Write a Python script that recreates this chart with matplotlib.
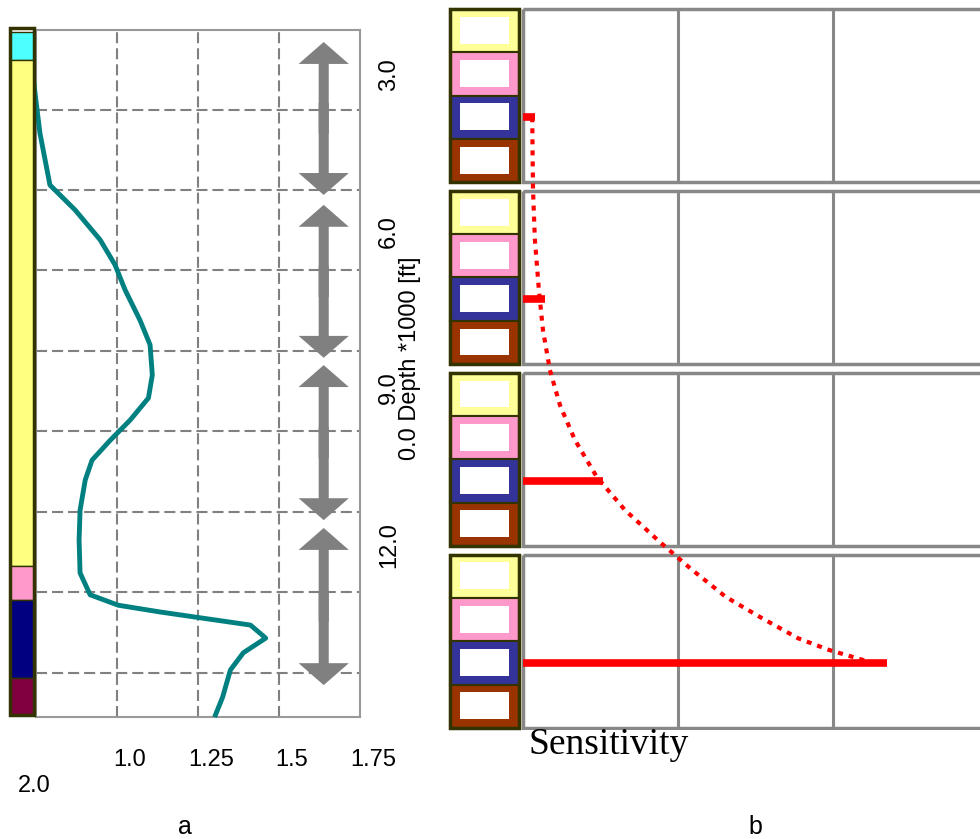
import numpy as np
import matplotlib.pyplot as plt
from matplotlib.patches import Rectangle
from matplotlib.transforms import ScaledTranslation

plt.rcParams['font.family'] = ['Liberation Sans', 'DejaVu Sans']

# ---------------- panel a : log vs depth (depth in 1000 ft)
log_depth = [3.04, 4.11, 5.11, 5.59, 6.16, 6.64, 7.12, 7.70, 8.17, 8.75,
             9.19, 9.61, 10.00, 10.38, 10.76, 11.34, 11.91, 12.54, 12.96, 13.16,
             13.29, 13.39, 13.54, 13.79, 14.07, 14.40, 14.92, 15.26]
log_value = [0.741, 0.762, 0.793, 0.871, 0.948, 0.994, 1.025, 1.071, 1.102, 1.109,
             1.097, 1.041, 0.979, 0.923, 0.902, 0.886, 0.883, 0.886, 0.917, 1.004,
             1.134, 1.245, 1.412, 1.459, 1.390, 1.350, 1.326, 1.304]

litho_tops = [2.17, 2.71, 12.41, 13.06, 14.55]
litho_bottoms = [2.71, 12.41, 13.06, 14.55, 15.26]
litho_colors = ['#4dffff', '#ffff80', '#ff99cc', '#000080', '#800040']

zone_tops = [2.37, 5.49, 8.56, 11.68]
zone_bottoms = [5.30, 8.42, 11.53, 14.69]

x_ticks = [1.0, 1.25, 1.5, 1.75]
x_tick_labels = ['1.0', '1.25', '1.5', '1.75']
depth_ticks = [3.0, 6.0, 9.0, 12.0]
depth_tick_labels = ['3.0', '6.0', '9.0', '12.0']

# ---------------- panel b : sensitivity per zone
sens_values = [0.077, 0.142, 0.516, 2.348]
sens_curve_x = [0.06, 0.062, 0.065, 0.077, 0.103, 0.129, 0.174, 0.239, 0.335, 0.477,
                0.658, 0.884, 1.084, 1.310, 1.529, 1.774, 1.974, 2.239, 2.303]
sens_curve_y = [2.50, 3.26, 4.18, 5.33, 6.49, 7.41, 8.34, 9.15, 9.95, 10.81,
                11.57, 12.31, 12.93, 13.58, 14.04, 14.53, 14.80, 15.08, 15.10]
legend_colors = ['#ffff99', '#ff99cc', '#333399', '#993300']

W, H = 980, 839
fig = plt.figure(figsize=(W / 100, H / 100), dpi=100)


def px_axes(x0, y0, x1, y1, **kw):
    return fig.add_axes([x0 / W, 1 - y1 / H, (x1 - x0) / W, (y1 - y0) / H], **kw)


# ---- panel a main axes
ax = px_axes(36, 30, 360, 717)
ax.set_xlim(0.75, 1.75)
ax.set_ylim(15.301, 2.140)
grid_kw = dict(color='#808080', lw=1.5, linestyle=(0, (5.3, 2.4)), zorder=1)
for gx in x_ticks[:-1]:
    ax.axvline(gx, **grid_kw)
for gy in 3.663 + 1.542 * np.arange(8):
    ax.axhline(gy, **grid_kw)
for s in ax.spines.values():
    s.set_color('#999999')
    s.set_linewidth(1.5)

ax.plot(log_value, log_depth, color='#008080', lw=3.5, clip_on=False, zorder=3)

arrow_x = 1.638
for top, bot in zip(zone_tops, zone_bottoms):
    mid = (top + bot) / 2
    ax.arrow(arrow_x, mid + 0.3, 0, top - mid - 0.3, width=0.031, head_width=0.155,
             head_length=0.42, length_includes_head=True,
             color='#808080', lw=0, zorder=2)
    ax.arrow(arrow_x, mid - 0.3, 0, bot - mid + 0.3, width=0.031, head_width=0.155,
             head_length=0.42, length_includes_head=True,
             color='#808080', lw=0, zorder=2)

ax.set_xticks(x_ticks, x_tick_labels)
ax.tick_params(axis='x', length=0, pad=23, labelsize=17)
shift = ScaledTranslation(13 / 100, 0, fig.dpi_scale_trans)
for lab in ax.get_xticklabels():
    lab.set_transform(lab.get_transform() + shift)

ax.yaxis.tick_right()
ax.set_yticks(depth_ticks, depth_tick_labels)
ax.tick_params(axis='y', length=0, pad=13, labelsize=17)
for lab in ax.get_yticklabels():
    lab.set_rotation(90)
    lab.set_va('center')

fig.text(410 / W, 1 - 358 / H, '0.0 Depth *1000 [ft]', rotation=90,
         ha='center', va='center', fontsize=17)
fig.text(34 / W, 1 - 786 / H, '2.0', ha='center', va='center', fontsize=17)
fig.text(185 / W, 1 - 827 / H, 'a', ha='center', va='center', fontsize=18)
fig.text(755 / W, 1 - 827 / H, 'b', ha='center', va='center', fontsize=18)

# ---- lithology column
ax_col = px_axes(10, 30, 34, 717, sharey=ax)
ax_col.set_xlim(0, 1)
ax_col.axis('off')
for top, bot, c in zip(litho_tops, litho_bottoms, litho_colors):
    ax_col.add_patch(Rectangle((0, top), 1, bot - top, fc=c, ec='#333300',
                               lw=1, clip_on=False))
ax_col.add_patch(Rectangle((0, 2.10), 1, litho_bottoms[-1] - 2.10, fill=False,
                           ec='#333300', lw=2.5, clip_on=False))

# ---- panel b
pitch = 4.2
ax_b = px_axes(520, 7, 980, 730)
ax_b.set_xlim(-0.019, 2.949)
ax_b.set_ylim(16.65, -0.046)
ax_b.axis('off')
for k, val in enumerate(sens_values):
    top = k * pitch
    ax_b.add_patch(Rectangle((0, top), 3.2, 4, fill=False, ec='#888888', lw=2.5))
    ax_b.vlines([1, 2], top, top + 4, color='#888888', lw=2.2)
    ax_b.plot([0, val], [top + 2.5, top + 2.5], color='#ff0000', lw=5.5,
              solid_capstyle='butt', zorder=3)
ax_b.plot(sens_curve_x, sens_curve_y, color='#ff0000', lw=3,
          linestyle=(0, (1.2, 1.45)), zorder=3)

ax_leg = px_axes(450, 7, 519, 730, sharey=ax_b)
ax_leg.set_xlim(0, 1)
ax_leg.axis('off')
for k in range(len(sens_values)):
    top = k * pitch
    for i, c in enumerate(legend_colors):
        ax_leg.add_patch(Rectangle((0, top + i), 1, 1, fc=c, ec='#333300',
                                   lw=1.5, clip_on=False))
        ax_leg.add_patch(Rectangle((0.14, top + i + 0.18), 0.72, 0.62,
                                   fc='white', ec='none', clip_on=False))
    ax_leg.add_patch(Rectangle((0, top), 1, 4, fill=False, ec='#333300',
                               lw=2.5, clip_on=False))

fig.text(528 / W, 1 - 745 / H, 'Sensitivity', ha='left', va='center',
         fontsize=27, family=['Liberation Serif', 'DejaVu Serif'])

fig.savefig('out.png', dpi=100)
